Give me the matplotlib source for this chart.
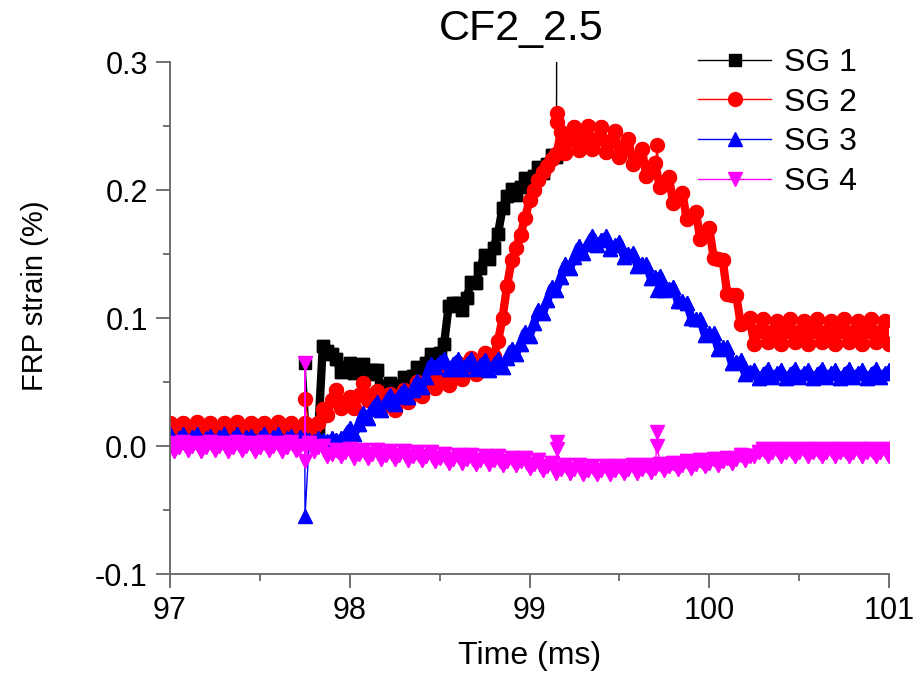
import numpy as np
import matplotlib
matplotlib.use('Agg')
import matplotlib.pyplot as plt
from matplotlib.lines import Line2D

plt.rcParams['font.family'] = ['Liberation Sans', 'DejaVu Sans']

# sample times (ms), 0.025 ms step
t_base = np.round(np.arange(97.0, 101.0001, 0.025), 3)

# FRP strain (%), one value per sample
sg1 = [0.008, 0.006, 0.010, 0.007, 0.009, 0.006, 0.010, 0.008, 0.006, 0.010,
       0.007, 0.009, 0.006, 0.010, 0.008, 0.006, 0.010, 0.007, 0.009, 0.006,
       0.010, 0.008, 0.006, 0.010, 0.007, 0.009, 0.006, 0.010, 0.008, 0.006,
       0.009, 0.007, 0.010, 0.012,
       0.078, 0.074, 0.072, 0.068, 0.058, 0.062, 0.065, 0.057, 0.060, 0.064,
       0.056, 0.059, 0.059, 0.046, 0.046, 0.049, 0.041, 0.047, 0.054, 0.049,
       0.055, 0.062, 0.057, 0.065, 0.072, 0.067, 0.073, 0.080,
       0.109, 0.112, 0.112, 0.106, 0.116, 0.128, 0.127, 0.139, 0.149, 0.146,
       0.155, 0.166, 0.186, 0.195, 0.201, 0.196, 0.202, 0.209, 0.204, 0.211,
       0.218, 0.213, 0.220, 0.227, 0.226]
sg2 = [0.018, 0.011, 0.015, 0.018, 0.012, 0.014, 0.019, 0.011, 0.015, 0.018,
       0.011, 0.014, 0.018, 0.012, 0.015, 0.019, 0.011, 0.014, 0.018, 0.011,
       0.015, 0.018, 0.012, 0.014, 0.019, 0.011, 0.015, 0.018, 0.011, 0.014,
       0.018, 0.012, 0.015, 0.018,
       0.029, 0.024, 0.036, 0.044, 0.030, 0.034, 0.038, 0.030, 0.040, 0.049,
       0.036, 0.040, 0.043, 0.030, 0.035, 0.041, 0.028, 0.036, 0.044, 0.034,
       0.042, 0.050, 0.039, 0.047, 0.055, 0.045, 0.052, 0.060,
       0.048, 0.057, 0.065, 0.052, 0.060, 0.069, 0.056, 0.064, 0.073, 0.061,
       0.070, 0.082, 0.100, 0.125, 0.145, 0.155, 0.165, 0.178,
       0.192, 0.200, 0.208, 0.214, 0.219, 0.224, 0.228,
       0.245, 0.229, 0.239, 0.249, 0.231, 0.241, 0.250, 0.232, 0.240, 0.249,
       0.230, 0.238, 0.246, 0.226, 0.233, 0.240, 0.220, 0.226, 0.232, 0.211,
       0.217,
       0.221, 0.202, 0.206, 0.210, 0.190, 0.194, 0.198, 0.177, 0.180, 0.183,
       0.162, 0.166, 0.170, 0.147, 0.146, 0.145, 0.119, 0.118, 0.118, 0.095,
       0.097, 0.100,
       0.080, 0.090, 0.099, 0.081, 0.089, 0.098, 0.080, 0.090, 0.099, 0.081,
       0.089, 0.098, 0.080, 0.090, 0.099, 0.081, 0.089, 0.098, 0.080, 0.090,
       0.099, 0.081, 0.089, 0.098, 0.080, 0.090, 0.099, 0.081, 0.089, 0.098,
       0.080]
sg3 = [0.009, 0.004, 0.006, 0.009, 0.004, 0.007, 0.009, 0.004, 0.006, 0.008,
       0.004, 0.007, 0.009, 0.004, 0.006, 0.009, 0.004, 0.007, 0.008, 0.004,
       0.006, 0.009, 0.004, 0.007, 0.009, 0.004, 0.006, 0.008, 0.004, 0.007,
       0.006, 0.005, 0.004, 0.006,
       0.005, 0.004, 0.006, 0.005, 0.006, 0.008, 0.014, 0.009, 0.017, 0.026,
       0.022, 0.029, 0.034, 0.028, 0.034, 0.040, 0.033, 0.039, 0.044, 0.038,
       0.044, 0.051, 0.046, 0.054, 0.064, 0.062, 0.066, 0.068,
       0.060, 0.064, 0.068, 0.060, 0.064, 0.068, 0.060, 0.063, 0.067, 0.059,
       0.063, 0.068, 0.062, 0.069, 0.076, 0.072, 0.080, 0.089,
       0.086, 0.096, 0.106, 0.104, 0.114, 0.124, 0.122, 0.132, 0.142, 0.139,
       0.148, 0.156, 0.151, 0.158, 0.164, 0.157, 0.161, 0.164, 0.154, 0.157,
       0.159, 0.148, 0.150, 0.151, 0.141, 0.142, 0.142, 0.131,
       0.132, 0.133, 0.122, 0.123, 0.124, 0.113, 0.113, 0.112, 0.100, 0.099,
       0.099, 0.087, 0.088, 0.088, 0.076, 0.077, 0.077, 0.065, 0.066, 0.067,
       0.056, 0.058,
       0.059, 0.053, 0.056, 0.060, 0.054, 0.057, 0.059, 0.053, 0.056, 0.060,
       0.054, 0.057, 0.059, 0.053, 0.056, 0.060, 0.054, 0.057, 0.059, 0.053,
       0.056, 0.060, 0.054, 0.057, 0.059, 0.053, 0.056, 0.060, 0.054, 0.057,
       0.059]
sg4 = [0.002, -0.004, -0.001, 0.003, -0.003, 0.000, 0.002, -0.004, -0.001, 0.003,
       -0.003, 0.000, 0.002, -0.004, -0.001, 0.003, -0.003, 0.000, 0.002, -0.004,
       -0.001, 0.003, -0.003, 0.000, 0.002, -0.004, -0.001, 0.003, -0.003, 0.000,
       0.000, 0.002, -0.004, -0.001,
       0.000, -0.008, -0.006, -0.003, -0.008, -0.005, -0.002, -0.009, -0.006, -0.003,
       -0.009, -0.006, -0.003, -0.010, -0.007, -0.004, -0.010, -0.007, -0.004, -0.011,
       -0.008, -0.005, -0.011, -0.008, -0.005, -0.012, -0.009, -0.006,
       -0.013, -0.010, -0.007, -0.013, -0.010, -0.007, -0.014, -0.011, -0.008, -0.014,
       -0.011, -0.008, -0.015, -0.012, -0.009, -0.015, -0.012, -0.009, -0.017, -0.014,
       -0.011, -0.019, -0.016, -0.013,
       -0.021, -0.018, -0.015, -0.021, -0.018, -0.015, -0.022, -0.019, -0.016, -0.022,
       -0.019, -0.016, -0.022, -0.019, -0.016, -0.021, -0.018, -0.015, -0.021, -0.018,
       -0.015, -0.020, -0.017, -0.014, -0.019, -0.016, -0.013, -0.018, -0.015, -0.012,
       -0.017, -0.014, -0.011, -0.016, -0.013, -0.010, -0.015, -0.012, -0.009, -0.013,
       -0.010, -0.007, -0.011, -0.008,
       -0.008, -0.005, -0.002, -0.008, -0.005, -0.002, -0.008, -0.005, -0.002, -0.008,
       -0.005, -0.002, -0.008, -0.005, -0.002, -0.008, -0.005, -0.002, -0.008, -0.005,
       -0.002, -0.008, -0.005, -0.002, -0.008, -0.005, -0.002, -0.008, -0.005, -0.002,
       -0.008]

# single-sample outliers (time, value)
sg1_spike_t = [97.751, 99.151]
sg1_spike_v = [0.065, 0.31]
sg2_spike_t = [97.751, 99.151, 99.152, 99.711]
sg2_spike_v = [0.037, 0.260, 0.253, 0.235]
sg3_spike_t = [97.751, 99.711]
sg3_spike_v = [-0.055, 0.122]
sg4_spike_t = [97.751, 97.752, 99.151, 99.152, 99.711, 99.712]
sg4_spike_v = [0.065, -0.012, 0.003, -0.002, 0.011, 0.000]


def merge(vals, st, sv):
    t = np.concatenate([t_base[:len(vals)], st])
    v = np.concatenate([vals, sv])
    o = np.argsort(t, kind='stable')
    return t[o], v[o]


fig = plt.figure(figsize=(9.2, 6.83), dpi=100)
ax = fig.add_axes([170/920, 1-574/683, (889-170)/920, (574-62)/683])

series = [
    ('SG 1', sg1, sg1_spike_t, sg1_spike_v, 'black', 's', 8.5),
    ('SG 2', sg2, sg2_spike_t, sg2_spike_v, 'red', 'o', 10),
    ('SG 3', sg3, sg3_spike_t, sg3_spike_v, 'blue', '^', 10.5),
    ('SG 4', sg4, sg4_spike_t, sg4_spike_v, 'magenta', 'v', 10.5),
]
handles = []
for name, vals, st, sv, col, mk, ms in series:
    t, v = merge(vals, st, sv)
    # thin line through all samples, incl. the single-sample spikes
    ax.plot(t, v, color=col, lw=1.0, marker=mk, ms=ms, mec=col, mfc=col)
    # dense noisy trace: heavier stroke fills the band between samples
    ax.plot(t_base[:len(vals)], vals, color=col, lw=6.0, solid_joinstyle='round',
            marker=mk, ms=ms, mec=col, mfc=col)
    handles.append(Line2D([], [], color=col, lw=1.0, marker=mk, ms=ms, mec=col, mfc=col, label=name))

ax.set_xlim(97, 101)
ax.set_ylim(-0.1, 0.3)
ax.set_xticks([97, 98, 99, 100, 101])
ax.set_xticks(np.arange(97.5, 101, 1.0), minor=True)
ax.set_yticks([-0.1, 0.0, 0.1, 0.2, 0.3])
ax.set_yticks(np.arange(-0.05, 0.3, 0.1), minor=True)
ax.set_yticklabels(['-0.1', '0.0', '0.1', '0.2', '0.3'])

for s in ['top', 'right']:
    ax.spines[s].set_visible(False)
for s in ['left', 'bottom']:
    ax.spines[s].set_color('#666666')
    ax.spines[s].set_linewidth(1.3)
ax.tick_params(which='major', direction='out', length=10, width=1.3, color='#666666',
               labelsize=22, pad=6)
ax.tick_params(which='minor', direction='out', length=5, width=1.3, color='#666666')

ax.set_xlabel('Time (ms)', fontsize=23)
ax.xaxis.set_label_coords((530-170)/719, (574-641)/512)
ax.set_ylabel('FRP strain (%)', fontsize=21)
ax.yaxis.set_label_coords((49-170)/719, (574-296)/512)
ax.set_title('CF2_2.5', fontsize=31, pad=16, x=(521-170)/719)

ax.legend(handles=handles, loc='upper left', bbox_to_anchor=(698/920, 1-48/683),
          bbox_transform=fig.transFigure, frameon=False, fontsize=23, handlelength=2.3,
          handletextpad=0.4, labelspacing=0.3, borderpad=0, borderaxespad=0)

fig.savefig('out.png', dpi=100, facecolor='w')
